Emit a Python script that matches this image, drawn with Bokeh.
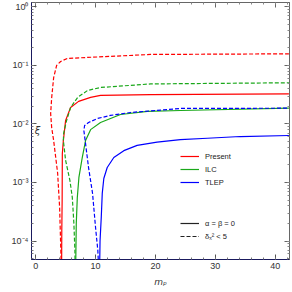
from bokeh.plotting import figure
from bokeh.models import (Range1d, LogAxis, LinearAxis, Legend, LegendItem, Label,
                          CustomJSTickFormatter, LogTicker, SingleIntervalTicker)
from bokeh.embed import file_html
from bokeh.resources import INLINE

# ---- data (m_p, xi) ----
present_solid_m = [4.33, 4.36, 4.42, 4.45, 4.62, 5.0, 5.83, 7.17, 9.17, 10.83, 19.2, 42.3]
present_solid_xi = [3.0e-5, 1.5e-4, 4.9e-4, 3.1e-3, 5.2e-3, 0.0115, 0.0191, 0.0243, 0.0284, 0.0307, 0.0316, 0.0326]

present_dash_m = [4.3, 4.0, 3.67, 3.0, 2.67, 2.5, 2.67, 3.0, 3.5, 4.17, 5.33, 8.67, 19.2, 42.3]
present_dash_xi = [3.0e-5, 3.7e-4, 1.43e-3, 5.2e-3, 8.7e-3, 0.015, 0.028, 0.062, 0.10, 0.117, 0.132, 0.137, 0.154, 0.158]

ilc_solid_m = [6.67, 6.78, 6.95, 7.22, 7.78, 8.33, 9.17, 10.83, 14.17, 18.67, 24.2, 42.3]
ilc_solid_xi = [3.0e-5, 2.0e-4, 5.5e-4, 1.22e-3, 2.67e-3, 5.2e-3, 8.0e-3, 0.0106, 0.0145, 0.0164, 0.017, 0.0186]

ilc_dash_m = [6.6, 6.55, 6.38, 6.12, 5.72, 5.0, 4.62, 4.67, 5.17, 5.83, 7.0, 8.67, 10.83, 19.2, 42.3]
ilc_dash_xi = [3.0e-5, 6.9e-5, 2.0e-4, 5.5e-4, 1.08e-3, 2.38e-3, 5.2e-3, 6.9e-3, 0.0115, 0.0191, 0.0284, 0.0374, 0.042, 0.0483, 0.0506]

tlep_solid_m = [10.67, 10.75, 10.95, 11.12, 11.38, 11.95, 13.05, 14.72, 16.95, 20.28, 24.17, 28.67, 34.17, 42.3]
tlep_solid_xi = [3.0e-5, 1.0e-4, 2.5e-4, 6.5e-4, 1.17e-3, 1.8e-3, 2.67e-3, 3.5e-3, 4.3e-3, 4.9e-3, 5.4e-3, 5.7e-3, 6.1e-3, 6.35e-3]

tlep_dash_m = [10.55, 10.38, 10.0, 9.5, 8.83, 8.33, 8.05, 8.17, 8.83, 10.33, 12.5, 15.83, 24.2, 42.3]
tlep_dash_xi = [3.0e-5, 6.9e-5, 1.7e-4, 6.5e-4, 1.8e-3, 4.6e-3, 7.7e-3, 9.4e-3, 0.0106, 0.0124, 0.014, 0.0157, 0.0184, 0.0186]

series_labels = ["Present", "ILC", "TLEP"]
style_labels = ["\u03b1 = \u03b2 = 0", "\u03b4\u1d6a\u00b2 < 5"]

RED, GREEN, BLUE = "#ff0000", "#1aa81a", "#0000ff"
FONT = "Liberation Sans"
DASH = "4 2"
LW = 1.2

p = figure(width=292, height=292, output_backend="svg", toolbar_location=None,
           x_range=Range1d(-0.7, 42.4), y_range=Range1d(4.83e-5, 1.19),
           y_axis_type="log",
           min_border_left=31, min_border_right=3, min_border_top=2, min_border_bottom=33)
p.grid.visible = False
p.outline_line_color = "#666666"
p.background_fill_color = "white"

# curves
r_ps = p.line(present_solid_m, present_solid_xi, color=RED, line_width=LW)
r_pd = p.line(present_dash_m, present_dash_xi, color=RED, line_width=LW, line_dash=DASH)
r_is = p.line(ilc_solid_m, ilc_solid_xi, color=GREEN, line_width=LW)
r_id = p.line(ilc_dash_m, ilc_dash_xi, color=GREEN, line_width=LW, line_dash=DASH)
r_ts = p.line(tlep_solid_m, tlep_solid_xi, color=BLUE, line_width=LW)
r_td = p.line(tlep_dash_m, tlep_dash_xi, color=BLUE, line_width=LW, line_dash=DASH)
k_s = p.line([0], [0.5], color="#222222", line_width=LW, visible=False)
k_d = p.line([0], [0.5], color="#222222", line_width=LW, line_dash=DASH, visible=False)

# axes
AX_COL = "#1a1a5e"
xa = p.xaxis[0]
xa.ticker = SingleIntervalTicker(interval=10, num_minor_ticks=5)
ya = p.yaxis[0]
ya.ticker = LogTicker(num_minor_ticks=10)
ya.formatter = CustomJSTickFormatter(code="""
const e = Math.round(Math.log10(tick));
const m = {'-':'\\u207b','0':'\\u2070','1':'\\u00b9','2':'\\u00b2','3':'\\u00b3','4':'\\u2074','5':'\\u2075','6':'\\u2076','7':'\\u2077','8':'\\u2078','9':'\\u2079'};
return '10' + String(e).split('').map(c => m[c]).join('');
""")
for ax in (xa, ya):
    ax.axis_line_color = AX_COL
    ax.major_tick_in = 5
    ax.major_tick_out = 0
    ax.minor_tick_in = 2
    ax.minor_tick_out = 0
    ax.major_tick_line_color = "#555555"
    ax.minor_tick_line_color = "#777777"
    ax.major_label_text_font = FONT
    ax.major_label_text_font_size = "9px"
    ax.major_label_text_color = "#333333"
    ax.major_label_standoff = 3
xa.axis_label = "m\u209a"
xa.axis_label_text_font = "DejaVu Sans"
xa.axis_label_text_font_style = "italic"
xa.axis_label_text_font_size = "9px"
xa.axis_label_text_color = "#333333"
xa.axis_label_standoff = 5

top = LinearAxis(ticker=SingleIntervalTicker(interval=10, num_minor_ticks=5))
right = LogAxis(ticker=LogTicker(num_minor_ticks=10))
for ax in (top, right):
    ax.axis_line_color = "#666666"
    ax.major_tick_in = 5
    ax.major_tick_out = 0
    ax.minor_tick_in = 2
    ax.minor_tick_out = 0
    ax.major_tick_line_color = "#666666"
    ax.minor_tick_line_color = "#888888"
    ax.major_label_standoff = 0
    ax.major_label_text_font_size = "1px"
    ax.formatter = CustomJSTickFormatter(code="return '';")
p.add_layout(top, "above")
p.add_layout(right, "right")

# y label
p.add_layout(Label(x=6, y=129, x_units="screen", y_units="screen", text="\u03be",
                   text_font="DejaVu Sans", text_font_style="italic",
                   text_font_size="10px", text_color="#333333",
                   text_align="center", text_baseline="middle"))

# legends
leg_common = dict(background_fill_alpha=0, border_line_alpha=0, padding=0, margin=0,
                  label_text_font=FONT, label_text_font_size="7.5px",
                  label_text_color="#222222", label_height=10, glyph_height=10,
                  glyph_width=19, label_standoff=6)
leg1 = Legend(items=[LegendItem(label=series_labels[0], renderers=[r_ps]),
                     LegendItem(label=series_labels[1], renderers=[r_is]),
                     LegendItem(label=series_labels[2], renderers=[r_ts])],
              location=(149, 72), spacing=3, **leg_common)
leg2 = Legend(items=[LegendItem(label=style_labels[0], renderers=[k_s]),
                     LegendItem(label=style_labels[1], renderers=[k_d])],
              location=(149, 18), spacing=3, **leg_common)
p.add_layout(leg1)
p.add_layout(leg2)

with open("out.html", "w", encoding="utf-8") as f:
    f.write(file_html(p, INLINE))
